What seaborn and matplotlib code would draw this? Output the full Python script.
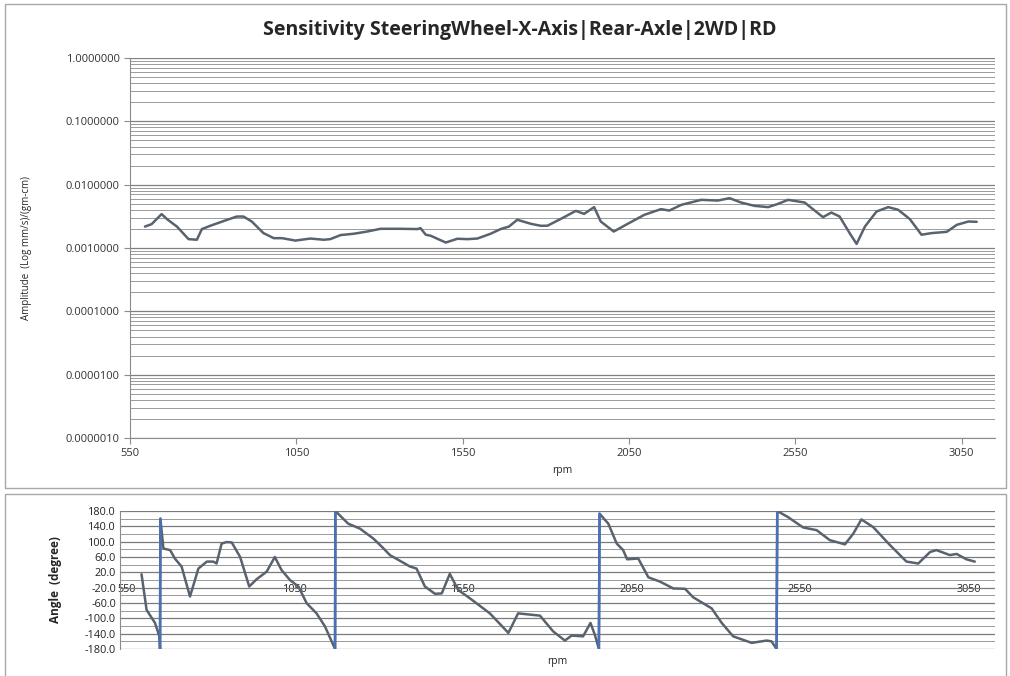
import numpy as np
import pandas as pd
import seaborn as sns
import matplotlib.pyplot as plt
import matplotlib.ticker as mticker
import matplotlib.transforms as mtrans
from matplotlib.patches import Rectangle

# amplitude trace (top)
amp_rpm = [595, 615, 645, 661, 691, 726, 751, 766, 791, 831, 871, 891, 916, 951, 982,
           1007, 1047, 1092, 1132, 1152, 1183, 1223, 1263, 1303, 1363, 1414, 1423, 1439,
           1454, 1499, 1534, 1564, 1594, 1634, 1664, 1689, 1714, 1755, 1785, 1805, 1855,
           1890, 1915, 1945, 1965, 2004, 2046, 2096, 2146, 2171, 2207, 2267, 2317, 2352,
           2387, 2427, 2468, 2498, 2528, 2578, 2608, 2633, 2658, 2683, 2713, 2734, 2759,
           2794, 2829, 2859, 2894, 2929, 2960, 3005, 3035, 3070, 3095]
amp_val = [0.00218, 0.00238, 0.00343, 0.00286, 0.00218, 0.00138, 0.00135, 0.00199,
           0.00224, 0.00266, 0.00314, 0.00314, 0.00262, 0.00172, 0.00143, 0.00143,
           0.00131, 0.00141, 0.00135, 0.00138, 0.00160, 0.00168, 0.00182, 0.00201,
           0.00201, 0.00199, 0.00206, 0.00162, 0.00156, 0.00122, 0.00140, 0.00138,
           0.00141, 0.00168, 0.00199, 0.00218, 0.00279, 0.00241, 0.00224, 0.00225,
           0.00307, 0.00386, 0.00346, 0.00442, 0.00262, 0.00182, 0.00241, 0.00334,
           0.00411, 0.00390, 0.00480, 0.00576, 0.00561, 0.00612, 0.00522, 0.00463,
           0.00442, 0.00498, 0.00576, 0.00522, 0.00390, 0.00307, 0.00363, 0.00314,
           0.00172, 0.00116, 0.00218, 0.00377, 0.00442, 0.00401, 0.00286, 0.00162,
           0.00172, 0.00180, 0.00232, 0.00262, 0.00259]

# phase trace (bottom)
ph_rpm = [614, 629, 654, 667, 669, 670, 679, 699, 713, 733, 758, 783, 808, 827, 837,
          852, 867, 882, 907, 934, 956, 986, 1010, 1030, 1055, 1080, 1105, 1134, 1159,
          1189, 1190, 1228, 1263, 1303, 1330, 1352, 1412, 1431, 1456, 1486, 1506, 1530,
          1555, 1590, 1649, 1704, 1733, 1798, 1837, 1872, 1892, 1926, 1948, 1961, 1973,
          1975, 2001, 2026, 2045, 2057, 2090, 2120, 2154, 2194, 2229, 2253, 2308, 2338,
          2372, 2427, 2471, 2486, 2501, 2503, 2535, 2580, 2620, 2659, 2704, 2729, 2753,
          2788, 2838, 2887, 2922, 2957, 2976, 3016, 3036, 3065, 3090]
ph_val = [15, -78, -112, -147, -180, 160, 82, 78, 56, 35, -43, 30, 48, 48, 43,
          95, 99, 98, 60, -17, 2, 22, 60, 26, 0, -17, -61, -87, -121,
          -180, 180, 147, 134, 108, 85, 65, 35, 30, -17, -36, -35, 16,
          -26, -48, -87, -138, -87, -93, -134, -158, -145, -147, -112, -143, -180,
          173, 147, 95, 78, 54, 56, 7, -4, -22, -23, -45, -74, -112,
          -147, -164, -158, -160, -180, 180, 164, 137, 130, 104, 93, 121, 158,
          138, 91, 48, 43, 73, 78, 65, 68, 54, 48]

x_ticks = [550, 1050, 1550, 2050, 2550, 3050]
title = "Sensitivity SteeringWheel-X-Axis|Rear-Axle|2WD|RD"

sns.set_style("white")
plt.rcParams['font.family'] = ['Open Sans', 'DejaVu Sans']

fig = plt.figure(figsize=(10.1, 6.76), dpi=100)
W, H = 1010, 676

# chart frames
for (x0, y0, x1, y1) in [(5, 4, 1006, 488), (5, 494, 1006, 680)]:
    fig.patches.append(Rectangle((x0 / W, 1 - y1 / H), (x1 - x0) / W, (y1 - y0) / H,
                                 transform=fig.transFigure, fill=False,
                                 edgecolor='#a8a8a8', linewidth=1.0))

line_col = '#59636f'
grid_col = '#9a9a9a'

# ---- top: amplitude ----
ax1 = fig.add_axes([130 / W, 1 - 438 / H, 865 / W, 380 / H])
top = pd.DataFrame({'rpm': amp_rpm, 'amp': amp_val})
sns.lineplot(data=top, x='rpm', y='amp', ax=ax1, color=line_col, linewidth=1.8,
             estimator=None, sort=False)
ax1.set_yscale('log')
ax1.set_ylim(1e-6, 1)
ax1.set_xlim(550, 3150)
ax1.set_xticks(x_ticks)
ax1.yaxis.set_major_locator(mticker.LogLocator(base=10, numticks=10))
ax1.yaxis.set_minor_locator(mticker.LogLocator(base=10, subs=np.arange(2, 10), numticks=20))
ax1.yaxis.set_major_formatter(mticker.FuncFormatter(lambda v, p: f"{v:.7f}"))
ax1.yaxis.set_minor_formatter(mticker.NullFormatter())
ax1.grid(True, which='major', axis='y', color='#808080', linewidth=0.9)
ax1.grid(True, which='minor', axis='y', color=grid_col, linewidth=0.7)
for s in ['top', 'right']:
    ax1.spines[s].set_visible(False)
for s in ['left', 'bottom']:
    ax1.spines[s].set_color('#8c8c8c')
ax1.tick_params(axis='both', which='major', labelsize=8, length=4, color='#8c8c8c',
                left=True, bottom=True, colors='#333333')
ax1.tick_params(axis='y', which='minor', length=0)
ax1.set_xlabel('rpm', fontsize=7.5, labelpad=4)
ax1.set_ylabel('Amplitude  (Log mm/s)/(gm-cm)', fontsize=7, labelpad=24)
fig.text(520 / W, 1 - 30 / H, title, ha='center', va='center',
         fontsize=14, fontweight='bold')

# ---- bottom: phase ----
ax2 = fig.add_axes([120 / W, 1 - 649 / H, 875 / W, 138 / H])
bot = pd.DataFrame({'rpm': ph_rpm, 'ang': ph_val})
sns.lineplot(data=bot, x='rpm', y='ang', ax=ax2, color=line_col, linewidth=1.8,
             estimator=None, sort=False)
# wrap-around jumps drawn in blue
for i in range(len(ph_val) - 1):
    if abs(ph_val[i + 1] - ph_val[i]) > 180:
        ax2.plot([ph_rpm[i], ph_rpm[i + 1]], [ph_val[i], ph_val[i + 1]],
                 color='#4a70b8', linewidth=1.8)
ax2.set_xlim(550, 3150)
ax2.set_ylim(-180, 180)
ax2.set_xticks(x_ticks)
ax2.set_yticks(np.arange(-180, 181, 40))
ax2.yaxis.set_minor_locator(mticker.MultipleLocator(20))
ax2.yaxis.set_major_formatter(mticker.FormatStrFormatter('%.1f'))
ax2.grid(True, which='major', axis='y', color='#7a7a7a', linewidth=0.9)
ax2.grid(True, which='minor', axis='y', color=grid_col, linewidth=0.7)
for s in ['top', 'right']:
    ax2.spines[s].set_visible(False)
ax2.spines['left'].set_color('#8c8c8c')
ax2.spines['bottom'].set_position(('data', 0))
ax2.spines['bottom'].set_visible(False)
ax2.tick_params(axis='both', which='major', labelsize=7.8, length=0, colors='#222222',
                pad=3)
ax2.tick_params(axis='y', which='minor', length=0)
# nudge x labels a little right, as in the reference
shift = mtrans.ScaledTranslation(7 / 100, 0, fig.dpi_scale_trans)
for lbl in ax2.get_xticklabels():
    lbl.set_transform(lbl.get_transform() + shift)
ax2.set_xlabel('')
ax2.text(0.5, -0.09, 'rpm', transform=ax2.transAxes, ha='center', va='center',
         fontsize=7.5)
ax2.set_ylabel('Angle  (degree)', fontsize=8.5, fontweight='bold', labelpad=16)

fig.savefig('out.png', dpi=100, facecolor='white')
